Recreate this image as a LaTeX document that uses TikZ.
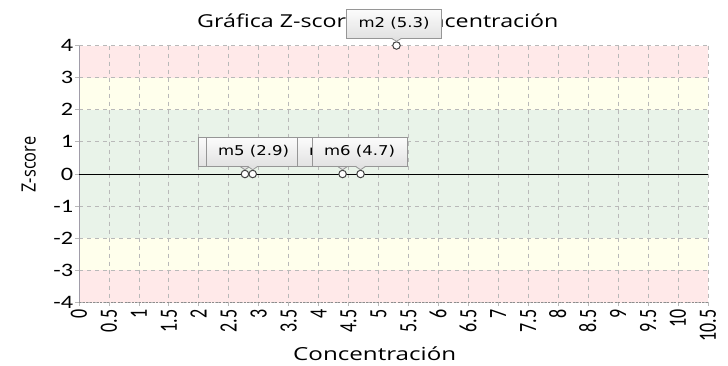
\documentclass[tikz,border=0pt]{standalone}
\usepackage{fontspec}
\usepackage{graphicx}
\setmainfont{Open Sans}
\newfontfamily\tickfont{Carlito}
\newfontfamily\boxfont{DejaVu Sans}
\usetikzlibrary{calc}
\definecolor{bandred}{RGB}{255,233,233}
\definecolor{bandyel}{RGB}{255,255,236}
\definecolor{bandgrn}{RGB}{233,243,233}
\definecolor{gridc}{RGB}{185,185,185}
\definecolor{axisc}{RGB}{160,156,168}
\definecolor{boxtop}{RGB}{252,252,252}
\definecolor{boxbot}{RGB}{226,226,226}
\definecolor{boxedge}{RGB}{150,150,150}
\newlength\tmpw
\begin{document}
\settowidth{\tmpw}{\fontsize{17.8}{20}\selectfont Gráfica Z-scor}%
\begin{tikzpicture}[x=1pt,y=-1pt,
  gridline/.style={draw=gridc, line width=0.8pt, dash pattern=on 4pt off 4pt},
  tickline/.style={draw=gridc, line width=0.8pt},
  ytick/.style={anchor=east, inner sep=0pt, font=\tickfont\fontsize{19}{21}\selectfont},
  xtick/.style={rotate=90, anchor=base east, inner sep=0pt, font=\tickfont\fontsize{18}{20}\selectfont},
  marker/.style={circle, draw=black!75, fill=white, line width=1pt, minimum size=7.5pt, inner sep=0pt},
  callout/.style={rectangle, draw=boxedge, line width=0.8pt, top color=boxtop, bottom color=boxbot,
    minimum width=95pt, minimum height=29pt, inner sep=0pt, font=\boxfont\fontsize{13.5}{15}\selectfont},
  pointer/.style={boxedge, line width=0.8pt}]
\useasboundingbox (0,0) rectangle (728,365);
% bands
\fill[bandred] (79,45.5) rectangle (708,77.625);
\fill[bandyel] (79,77.625) rectangle (708,109.75);
\fill[bandgrn] (79,109.75) rectangle (708,238.25);
\fill[bandyel] (79,238.25) rectangle (708,270.375);
\fill[bandred] (79,270.375) rectangle (708,302.5);
% vertical grid + x ticks
\foreach \i in {1,...,21} {
  \pgfmathsetmacro\xx{79+29.9524*\i}
  \draw[gridline] (\xx,45.5) -- (\xx,302.5);
}
\foreach \i in {0,...,21} {
  \pgfmathsetmacro\xx{79+29.9524*\i}
  \draw[tickline] (\xx,302.5) -- (\xx,306);
}
% horizontal grid + y ticks
\foreach \j in {0,...,8} {
  \pgfmathsetmacro\yy{45.5+32.125*\j}
  \draw[gridline] (79,\yy) -- (708,\yy);
  \draw[tickline] (75,\yy) -- (79,\yy);
}
% axes
\draw[axisc, line width=1pt] (79,45.5) -- (79,302.5);
\draw[black!45, line width=0.8pt, dash pattern=on 2pt off 1.5pt] (79,302.5) -- (708,302.5);
\draw[black, line width=0.9pt] (79,174) -- (708,174);
% y tick labels
\foreach \t [count=\j from 0] in {4,3,2,1,0,-1,-2,-3,-4} {
  \pgfmathsetmacro\yy{45.5+32.125*\j}
  \node[ytick] (yt\j) at (73.3,\yy) {\scalebox{1.28}[1]{\t}};
}
% x tick labels
\foreach \t [count=\i from 0] in {0,0.5,1,1.5,2,2.5,3,3.5,4,4.5,5,5.5,6,6.5,7,7.5,8,8.5,9,9.5,10,10.5} {
  \pgfmathsetmacro\xx{79+29.9524*\i+7.9}
  \node[xtick] (xt\i) at (\xx,309.5) {\scalebox{1}[1.38]{\t}};
}
% axis titles
\pgfmathsetmacro\tfac{149/\tmpw}
\node[anchor=base west, inner sep=0pt] (title) at (197,27.7)
  {\fontsize{17.8}{20}\selectfont\scalebox{\tfac}[1]{Gráfica Z-score vs. Concentración}};
\node[rotate=90, anchor=base, inner sep=0pt] (ylab) at (35.5,164.5)
  {\fontsize{16.4}{18}\selectfont\scalebox{1}[1.2]{Z-score}};
\node[anchor=base west, inner sep=0pt] (xlab) at (293,360)
  {\fontsize{18}{20}\selectfont\resizebox{163pt}{\height}{Concentración}};
% markers
\node[marker] (p1) at ({79+59.905*2.77},174) {};
\node[marker] (p3) at ({79+59.905*2.9},174) {};
\node[marker] (p4) at ({79+59.905*4.4},174) {};
\node[marker] (p6) at ({79+59.905*4.7},174) {};
\node[marker] (p2) at ({79+59.905*5.3},45.5) {};
% callouts
\node[callout] (b1) at (245.5,151.5) {};
\fill[boxbot] ($(p1 |- b1.south)+(-5,-0.6)$) -- (p1.north) -- ($(p1 |- b1.south)+(5,-0.6)$) -- cycle;
\draw[pointer] ($(p1 |- b1.south)+(-5,0)$) -- (p1.north) -- ($(p1 |- b1.south)+(5,0)$);
\foreach \b/\p/\cx/\cy/\txt in {b3/p3/253.5/151.5/m5 (2.9), b4/p4/344.5/151.5/m4 (4.4), b6/p6/359.5/151.5/m6 (4.7), b2/p2/394/23.5/m2 (5.3)} {
  \node[callout] (\b) at (\cx,\cy) {\resizebox{71pt}{\height}{\txt}};
  \fill[boxbot] ($(\p |- \b.south)+(-5,-0.6)$) -- (\p.north) -- ($(\p |- \b.south)+(5,-0.6)$) -- cycle;
  \draw[pointer] ($(\p |- \b.south)+(-5,0)$) -- (\p.north) -- ($(\p |- \b.south)+(5,0)$);
}
\end{tikzpicture}
\end{document}
